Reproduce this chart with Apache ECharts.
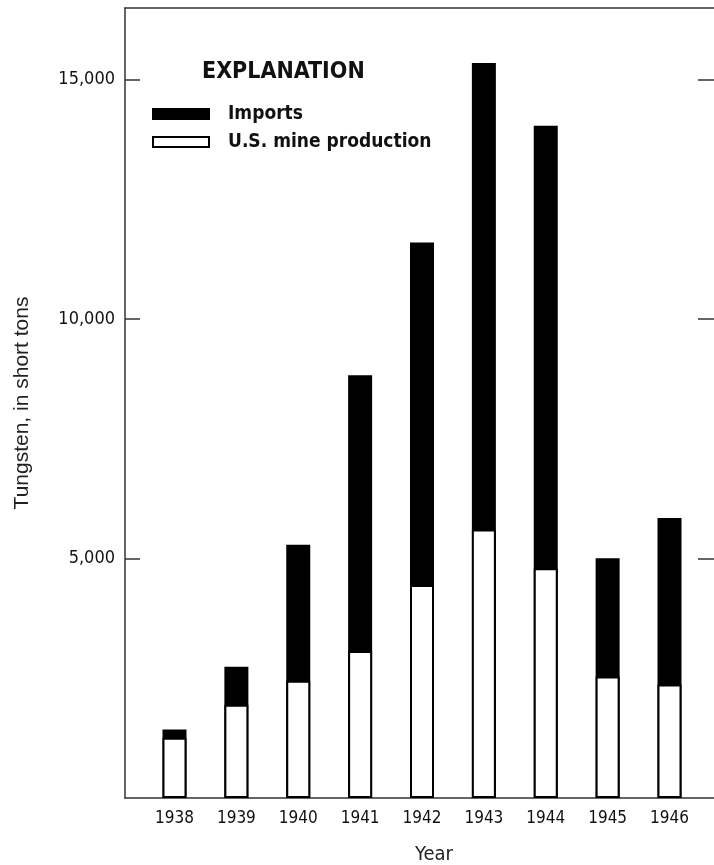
<!DOCTYPE html>
<html>
<head>
<meta charset="utf-8">
<script src="https://cdn.jsdelivr.net/npm/echarts@6/dist/echarts.min.js"></script>
<style>
html,body{margin:0;padding:0;background:#fff;}
#chart{width:714px;height:865px;}
</style>
</head>
<body>
<div id="chart"></div>
<script>
const years = [1938, 1939, 1940, 1941, 1942, 1943, 1944, 1945, 1946];
const mineProduction = [1260, 1950, 2450, 3070, 4450, 5610, 4800, 2540, 2370];
const imports = [170, 790, 2840, 5760, 7150, 9740, 9240, 2470, 3480];
const yTicks = [5000, 10000, 15000];
const seriesNames = ['Imports', 'U.S. mine production'];

const NARROW = "'Liberation Sans Narrow', 'Arial Narrow', 'DejaVu Sans Condensed', sans-serif";
const axisLineStyle = { color: '#333', width: 1.5 };

const totals = years.map((y, i) => [y, mineProduction[i] + imports[i]]);
const prod = years.map((y, i) => [y, mineProduction[i]]);

const chart = echarts.init(document.getElementById('chart'));
chart.setOption({
  animation: false,
  backgroundColor: '#fff',
  grid: { left: 125, right: -5, top: 8, bottom: 67, outerBoundsMode: 'none', containLabel: false },
  xAxis: [
    {
      type: 'value', min: 1937.2, max: 1946.8, position: 'bottom',
      axisLine: { show: true, onZero: false, lineStyle: axisLineStyle },
      axisTick: { show: false },
      splitLine: { show: false },
      axisLabel: {
        customValues: years, formatter: v => String(v), margin: 12,
        fontSize: 17, color: '#111', fontFamily: NARROW
      }
    },
    {
      type: 'value', min: 1937.2, max: 1946.8, position: 'top',
      axisLine: { show: true, onZero: false, lineStyle: axisLineStyle },
      axisTick: { show: false }, axisLabel: { show: false }, splitLine: { show: false }
    }
  ],
  yAxis: [
    {
      type: 'value', min: 0, max: 16500, position: 'left',
      axisLine: { show: true, onZero: false, lineStyle: axisLineStyle },
      axisTick: { show: true, inside: true, length: 15, customValues: yTicks, lineStyle: axisLineStyle },
      splitLine: { show: false },
      axisLabel: {
        customValues: yTicks, formatter: v => v.toLocaleString('en-US'), margin: 10,
        fontSize: 18, color: '#111', fontFamily: NARROW
      }
    },
    {
      type: 'value', min: 0, max: 16500, position: 'right',
      axisLine: { show: true, onZero: false, lineStyle: axisLineStyle },
      axisTick: { show: true, inside: true, length: 21, customValues: yTicks, lineStyle: axisLineStyle },
      splitLine: { show: false }, axisLabel: { show: false }
    }
  ],
  legend: {
    orient: 'vertical', left: 152, top: 100, padding: 0, itemWidth: 56, itemHeight: 10, itemGap: 0,
    selectedMode: false, icon: 'rect',
    data: seriesNames,
    textStyle: { fontSize: 19, fontWeight: 'bold', color: '#111', fontFamily: NARROW, lineHeight: 28, padding: [0, 0, 0, 14] }
  },
  graphic: [
    { type: 'text', left: 202, top: 61, style: { text: 'EXPLANATION', font: "bold 23px " + NARROW, fill: '#111' } },
    { type: 'text', x: 22, y: 403, rotation: Math.PI / 2,
      style: { text: 'Tungsten, in short tons', font: "21px 'Liberation Sans', Arial, sans-serif", fill: '#222', align: 'center', verticalAlign: 'middle' } },
    { type: 'text', x: 434, y: 855,
      style: { text: 'Year', font: "20px " + NARROW, fill: '#222', align: 'center', verticalAlign: 'middle' } }
  ],
  series: [
    {
      name: seriesNames[0], type: 'bar', data: totals, barWidth: 24, barGap: '-100%',
      itemStyle: { color: '#000', borderColor: '#000', borderWidth: 2 }
    },
    {
      name: seriesNames[1], type: 'bar', data: prod, barWidth: 24, barGap: '-100%',
      itemStyle: { color: '#fff', borderColor: '#000', borderWidth: 2 }
    }
  ]
});
</script>
</body>
</html>
